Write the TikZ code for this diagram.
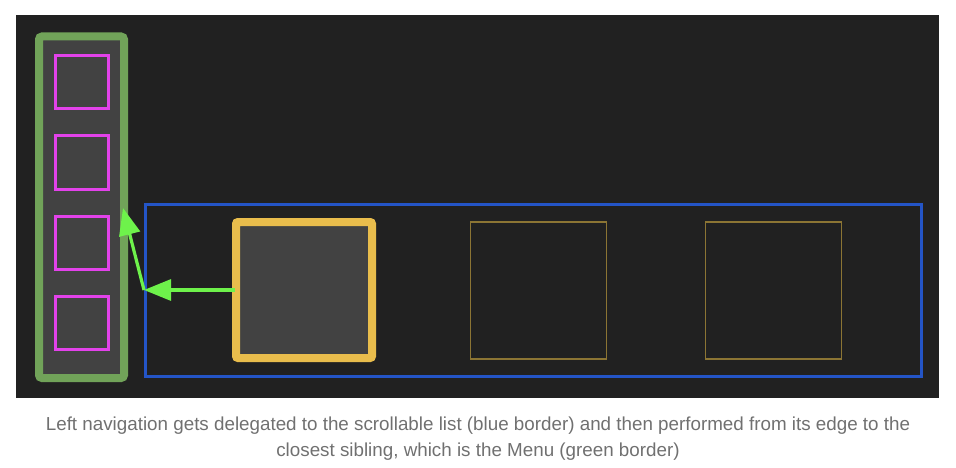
\documentclass[tikz,border=0pt]{standalone}
\usepackage{fontspec}
\setmainfont{Liberation Sans}
\usetikzlibrary{arrows.meta,positioning}
\definecolor{panelbg}{HTML}{212121}
\definecolor{cellgray}{HTML}{424242}
\definecolor{menugreen}{HTML}{71A359}
\definecolor{magenta}{HTML}{E342EA}
\definecolor{listblue}{HTML}{2455C7}
\definecolor{focusgold}{HTML}{E9BD4C}
\definecolor{dimgold}{HTML}{8C7534}
\definecolor{navgreen}{HTML}{6EF24B}
\definecolor{captiongray}{HTML}{707070}

\begin{document}
\begin{tikzpicture}[x=1pt,y=-1pt,
    menu/.style={draw=menugreen,line width=8pt,fill=cellgray,rounded corners=3pt,
                 minimum width=85pt,minimum height=341.5pt,inner sep=0pt},
    entry/.style={draw=magenta,line width=3pt,minimum size=53pt,inner sep=0pt},
    list/.style={draw=listblue,line width=3pt,minimum width=775.5pt,
                 minimum height=172pt,inner sep=0pt},
    focused/.style={draw=focusgold,line width=8pt,fill=cellgray,rounded corners=2pt,
                    minimum size=136pt,inner sep=0pt},
    item/.style={draw=dimgold,line width=1.5pt,minimum width=136pt,
                 minimum height=137pt,inner sep=0pt},
    nav/.style={draw=navgreen,line width=3.2pt,
                -{Triangle[length=27pt,width=21pt]}}]
  \useasboundingbox (0,0) rectangle (956,468);
  \fill[panelbg] (16,15) rectangle (939,398);
  % menu with its entries
  \node[menu] (menu) at (81.5,207.25) {};
  \foreach \y [count=\i] in {82.5,162.5,242.5,322.5}
    \node[entry] (entry\i) at (81.5,\y) {};
  % scrollable list
  \node[list] (list) at (533.25,290) {};
  \node[focused] (cur) at (304,290) {};
  \node[item] (item2) at (538.5,290.5) {};
  \node[item] (item3) at (773.5,290.5) {};
  % delegated navigation
  \coordinate (edge) at (list.west);
  \coordinate (hit) at (123,208);
  \draw[nav] (cur.center -| 235,0) -- (edge);
  \draw[nav] (edge) -- (hit);
  \node[text=captiongray,font=\fontsize{18.8}{26}\selectfont,align=center] (caption)
    at (478,439) {Left navigation gets delegated to the scrollable list (blue border) and then performed from its edge to the\\
    closest sibling, which is the Menu (green border)};
\end{tikzpicture}
\end{document}
